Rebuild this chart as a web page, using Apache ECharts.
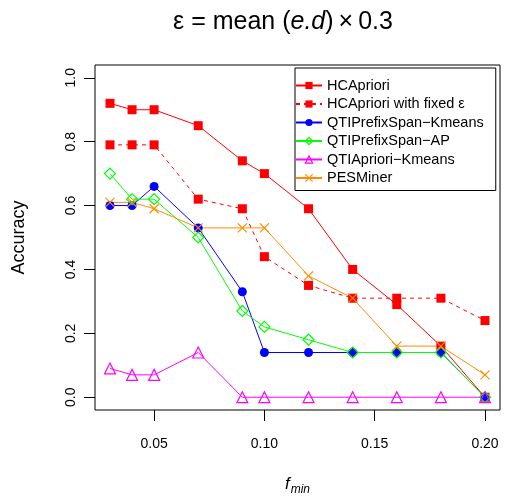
<!DOCTYPE html>
<html><head><meta charset="utf-8">
<script src="https://cdn.jsdelivr.net/npm/echarts@6/dist/echarts.min.js"></script>
<style>html,body{margin:0;padding:0;background:#fff}#c{width:508px;height:497px}</style>
</head><body><div id="c"></div>
<script>
const fmin = [0.03,0.04,0.05,0.07,0.09,0.10,0.12,0.14,0.16,0.18,0.20];
const hcApriori = [0.92,0.90,0.90,0.85,0.74,0.70,0.59,0.40,0.29,0.16,0.00];
const hcAprioriFixed = [0.79,0.79,0.79,0.62,0.59,0.44,0.35,0.31,0.31,0.31,0.24];
const qtiPSKmeans = [0.60,0.60,0.66,0.53,0.33,0.14,0.14,0.14,0.14,0.14,0.00];
const qtiPSAP = [0.70,0.62,0.62,0.50,0.27,0.22,0.18,0.14,0.14,0.14,0.00];
const qtiAprKmeans = [0.09,0.07,0.07,0.14,0.00,0.00,0.00,0.00,0.00,0.00,0.00];
const pesMiner = [0.61,0.61,0.59,0.53,0.53,0.53,0.38,0.31,0.16,0.16,0.07];
const xTicks = [0.05,0.10,0.15,0.20];
const yTicks = [0,0.2,0.4,0.6,0.8,1.0];
const names = ['HCApriori','HCApriori with fixed ε','QTIPrefixSpan−Kmeans','QTIPrefixSpan−AP','QTIApriori−Kmeans','PESMiner'];

const FONT = 'Liberation Sans, Arial, sans-serif';
const pair = arr => fmin.map((x,i)=>[x,arr[i]]);
function mk(name, data, color, symbol, size, filled, dashed){
  return {
    name, type:'line', data: pair(data), symbol, symbolSize:size,
    lineStyle:{color, width:1, type: dashed ? [4,4] : 'solid'},
    itemStyle:{color: filled ? color : 'rgba(0,0,0,0)', borderColor: color, borderWidth: filled?0:1.2},
    emphasis:{disabled:true}, animation:false
  };
}
const xPath = 'path://M0,0L10,10M10,0L0,10';
const openStyle = c => ({color:'rgba(0,0,0,0)', borderColor:c, borderWidth:1.2});
const chart = echarts.init(document.getElementById('c'), null, {renderer:'canvas'});
chart.setOption({
  animation:false,
  textStyle:{fontFamily:FONT},
  title:{
    text:'{n|ε = mean (}{i|e.d}{n|)\u2009×\u20090.3}',
    left:278, top:5, textAlign:'center',
    textStyle:{fontWeight:'normal', rich:{
      n:{fontSize:25, fontFamily:FONT, fontWeight:'normal', color:'#000'},
      i:{fontSize:25, fontFamily:FONT, fontStyle:'italic', fontWeight:'normal', color:'#000'}
    }}
  },
  grid:{left:95, right:8, top:65, bottom:87, show:true, borderColor:'#000', borderWidth:1, backgroundColor:'transparent', containLabel:false, outerBoundsMode:'none'},
  legend:{
    orient:'vertical', left:295, top:68,
    itemWidth:26, itemHeight:9, itemGap:3.5,
    padding:[10,12,5,0],
    borderColor:'#000', borderWidth:1, backgroundColor:'#fff',
    textStyle:{fontSize:14.5, lineHeight:14, fontFamily:FONT, color:'#000', padding:[0,0,0,0]},
    selectedMode:false,
    data:[
      {name:names[0]},
      {name:names[1]},
      {name:names[2]},
      {name:names[3], itemStyle:openStyle('#00FF00')},
      {name:names[4], itemStyle:openStyle('#FF00FF')},
      {name:names[5], itemStyle:openStyle('#FF8C00')}
    ]
  },
  xAxis:{
    type:'value', min:0.0232, max:0.2068,
    splitLine:{show:false},
    axisLine:{show:false, onZero:false},
    axisTick:{show:true, length:11, inside:false, customValues:xTicks, lineStyle:{color:'#000'}},
    axisLabel:{customValues:xTicks, margin:27, fontSize:14, color:'#000', fontFamily:FONT, formatter:v=>v.toFixed(2)},
    name:'{f|f}{s|min}', nameLocation:'middle', nameGap:62,
    nameTextStyle:{rich:{
      f:{fontSize:17, fontStyle:'italic', fontFamily:FONT, color:'#000'},
      s:{fontSize:12, fontStyle:'italic', fontFamily:FONT, color:'#000', padding:[12,0,0,1]}
    }}
  },
  yAxis:{
    type:'value', min:-0.04, max:1.04,
    splitLine:{show:false},
    axisLine:{show:false, onZero:false},
    axisTick:{show:true, length:11, customValues:yTicks, lineStyle:{color:'#000'}},
    axisLabel:{customValues:yTicks, rotate:90, margin:17, fontSize:14, color:'#000', fontFamily:FONT, formatter:v=>v.toFixed(1)},
    name:'Accuracy', nameLocation:'middle', nameRotate:90, nameGap:67,
    nameTextStyle:{fontSize:18, color:'#000', fontFamily:FONT}
  },
  series:[
    mk(names[0], hcApriori, '#FF0000', 'rect', 9, true, false),
    mk(names[1], hcAprioriFixed, '#FF0000', 'rect', 9, true, true),
    mk(names[2], qtiPSKmeans, '#0000FF', 'circle', 9, true, false),
    mk(names[3], qtiPSAP, '#00FF00', 'diamond', 11, false, false),
    mk(names[4], qtiAprKmeans, '#FF00FF', 'triangle', 11, false, false),
    mk(names[5], pesMiner, '#FF8C00', xPath, 9, false, false)
  ]
});
</script></body></html>
